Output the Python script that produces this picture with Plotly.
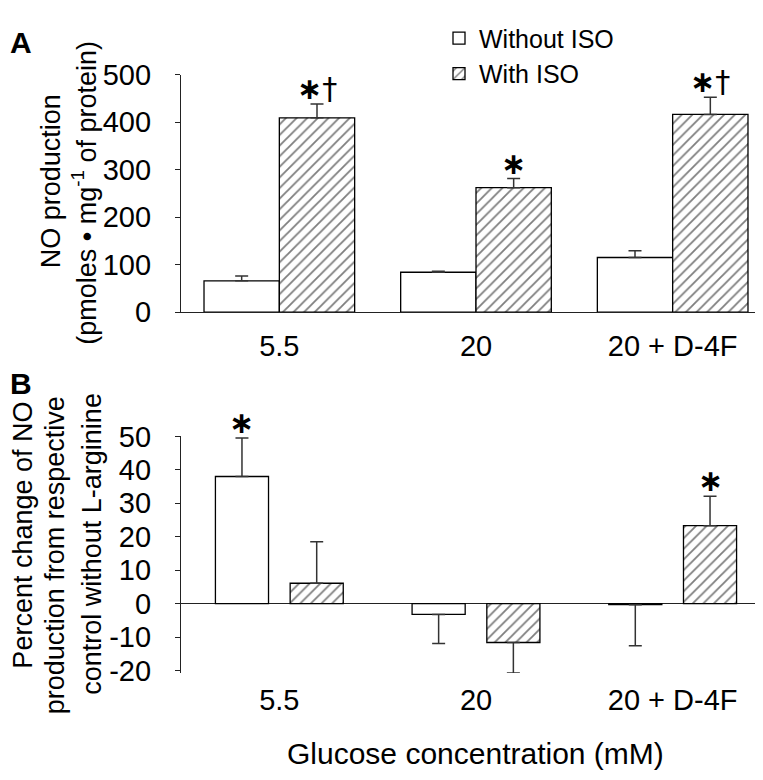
import plotly.graph_objects as go

# ---------------- data ----------------
categories = ["5.5", "20", "20 + D-4F"]
series_names = ["Without ISO", "With ISO"]

# Panel A: NO production (pmoles / mg protein)
a_without = [66, 84, 115]
a_without_err = [10, 2, 14]
a_with = [409, 262, 416]
a_with_err = [29, 19, 36]
a_marks_without = ["", "", ""]
a_marks_with = ["∗†", "∗", "∗†"]
a_yticks = [0, 100, 200, 300, 400, 500]
a_yticklabels = ["0", "100", "200", "300", "400", "500"]

# Panel B: percent change from respective control without L-arginine
b_without = [38.0, -3.2, -0.3]
b_without_err = [11.5, 8.7, 12.3]
b_with = [6.1, -11.6, 23.3]
b_with_err = [12.4, 9.1, 8.8]
b_marks_without = ["∗", "", ""]
b_marks_with = ["", "", "∗"]
b_yticks = [-20, -10, 0, 10, 20, 30, 40, 50]
b_yticklabels = ["-20", "-10", "0", "10", "20", "30", "40", "50"]

# ---------------- layout constants ----------------
W, H = 763, 780
FONT = "Liberation Sans, Arial, sans-serif"
MARK_FONT = "DejaVu Sans, Liberation Sans, sans-serif"
LINE = "#222222"
TICK_SIZE = 29


def py(p):
    return 1 - p / H


x_dom = [173 / W, 1.0]
a_dom = [py(300.5), py(52.7)]
b_range = [-20.7, 50]
b_dom = [py(676.7), py(430)]

a_w = 0.383
b_w = 0.27
b_off = 0.19


def err_style(vals, errs):
    plus = [e if v >= 0 else 0 for v, e in zip(vals, errs)]
    minus = [e if v < 0 else 0 for v, e in zip(vals, errs)]
    return dict(type="data", symmetric=False, array=plus, arrayminus=minus,
                color="#333333", thickness=1.5, width=6.5)


plain = dict(color="white", line=dict(color="black", width=1.3))
hatched = dict(color="white", line=dict(color="black", width=1.3),
               pattern=dict(shape="/", fgcolor="black", bgcolor="white",
                            size=7.5, solidity=0.24))

fig = go.Figure()

# Panel A
fig.add_trace(go.Bar(x=categories, y=a_without, name=series_names[0],
                     width=a_w, offset=-a_w, marker=plain,
                     error_y=err_style(a_without, a_without_err),
                     xaxis="x", yaxis="y", showlegend=True))
fig.add_trace(go.Bar(x=categories, y=a_with, name=series_names[1],
                     width=a_w, offset=0, marker=hatched,
                     error_y=err_style(a_with, a_with_err),
                     xaxis="x", yaxis="y", showlegend=True))

# Panel B
fig.add_trace(go.Bar(x=categories, y=b_without, name=series_names[0],
                     width=b_w, offset=-b_off - b_w / 2, marker=plain,
                     error_y=err_style(b_without, b_without_err),
                     xaxis="x2", yaxis="y2", showlegend=False))
fig.add_trace(go.Bar(x=categories, y=b_with, name=series_names[1],
                     width=b_w, offset=b_off - b_w / 2, marker=hatched,
                     error_y=err_style(b_with, b_with_err),
                     xaxis="x2", yaxis="y2", showlegend=False))

annotations = []


def mark_html(m):
    return m.replace("∗", "<b>∗</b>")


def add_marks(marks, vals, errs, centre_shift, xref, yref):
    for i, (m, v, e) in enumerate(zip(marks, vals, errs)):
        if not m:
            continue
        annotations.append(dict(
            x=i + centre_shift, y=v + e, xref=xref, yref=yref,
            text=mark_html(m), showarrow=False, xanchor="center",
            yanchor="bottom", yshift=-4,
            font=dict(family=MARK_FONT, size=30, color="black")))


add_marks(a_marks_without, a_without, a_without_err, -a_w / 2, "x", "y")
add_marks(a_marks_with, a_with, a_with_err, a_w / 2, "x", "y")
add_marks(b_marks_without, b_without, b_without_err, -b_off, "x2", "y2")
add_marks(b_marks_with, b_with, b_with_err, b_off, "x2", "y2")

# panel letters
for letter, top in (("A", 0), ("B", 356)):
    annotations.append(dict(text="<b>%s</b>" % letter, x=0, y=py(top),
                            xref="paper", yref="paper", xanchor="left",
                            yanchor="top", showarrow=False,
                            font=dict(family=FONT, size=30, color="black")))

# y titles (one annotation per line)
a_title = ["NO production", "(pmoles • mg<sup>-1</sup> of protein)"]
a_title_pos = [(43, 164), (76, 176)]
for t, (xp, yp) in zip(a_title, a_title_pos):
    annotations.append(dict(text=t, textangle=-90, x=xp / W, y=py(yp),
                            xref="paper", yref="paper", xanchor="center",
                            yanchor="middle", showarrow=False,
                            font=dict(family=FONT, size=27, color="black")))

b_title = ["Percent change of NO", "production from respective",
           "control without L-arginine"]
b_title_pos = [(15.5, 533), (47, 554), (84, 542)]
for t, (xp, yp) in zip(b_title, b_title_pos):
    annotations.append(dict(text=t, textangle=-90, x=xp / W, y=py(yp),
                            xref="paper", yref="paper", xanchor="center",
                            yanchor="middle", showarrow=False,
                            font=dict(family=FONT, size=27, color="black")))

annotations.append(dict(text="Glucose concentration (mM)", x=468 / W, y=py(761),
                        xref="paper", yref="paper", xanchor="center",
                        yanchor="middle", showarrow=False,
                        font=dict(family=FONT, size=30, color="black")))

axis_font = dict(family=FONT, size=TICK_SIZE, color="black")

fig.update_layout(
    width=W, height=H,
    margin=dict(l=0, r=0, t=0, b=0),
    paper_bgcolor="white", plot_bgcolor="white",
    barmode="overlay",
    font=dict(family=FONT, size=25, color="black"),
    xaxis=dict(domain=x_dom, anchor="y", range=[-0.5, 2.5], type="category",
               showline=True, linecolor=LINE, linewidth=1.3, ticks="",
               showgrid=False, zeroline=False, tickfont=axis_font,
               ticklabelstandoff=8),
    yaxis=dict(domain=a_dom, anchor="x", range=[0, 500], tickvals=a_yticks,
               ticktext=a_yticklabels,
               showline=True, linecolor=LINE, linewidth=1.3, ticks="outside",
               ticklen=5, tickwidth=1.3, tickcolor=LINE, showgrid=False,
               zeroline=False, tickfont=axis_font, ticklabelstandoff=18),
    xaxis2=dict(domain=x_dom, anchor="y2", range=[-0.5, 2.5], type="category",
                showline=False, ticks="", showgrid=False, zeroline=False,
                tickfont=axis_font, ticklabelstandoff=7),
    yaxis2=dict(domain=b_dom, anchor="x2", range=b_range, tickvals=b_yticks,
                ticktext=b_yticklabels,
                showline=True, linecolor=LINE, linewidth=1.3, ticks="outside",
                ticklen=5, tickwidth=1.3, tickcolor=LINE, showgrid=False,
                zeroline=True, zerolinecolor=LINE, zerolinewidth=1.3,
                tickfont=axis_font, ticklabelstandoff=18),
    legend=dict(x=431 / W, y=1 + 9 / H, xanchor="left", yanchor="top",
                bgcolor="rgba(0,0,0,0)",
                font=dict(family=FONT, size=25, color="black"),
                tracegroupgap=0, itemwidth=30),
    annotations=annotations,
)

fig.write_html("out.html")
